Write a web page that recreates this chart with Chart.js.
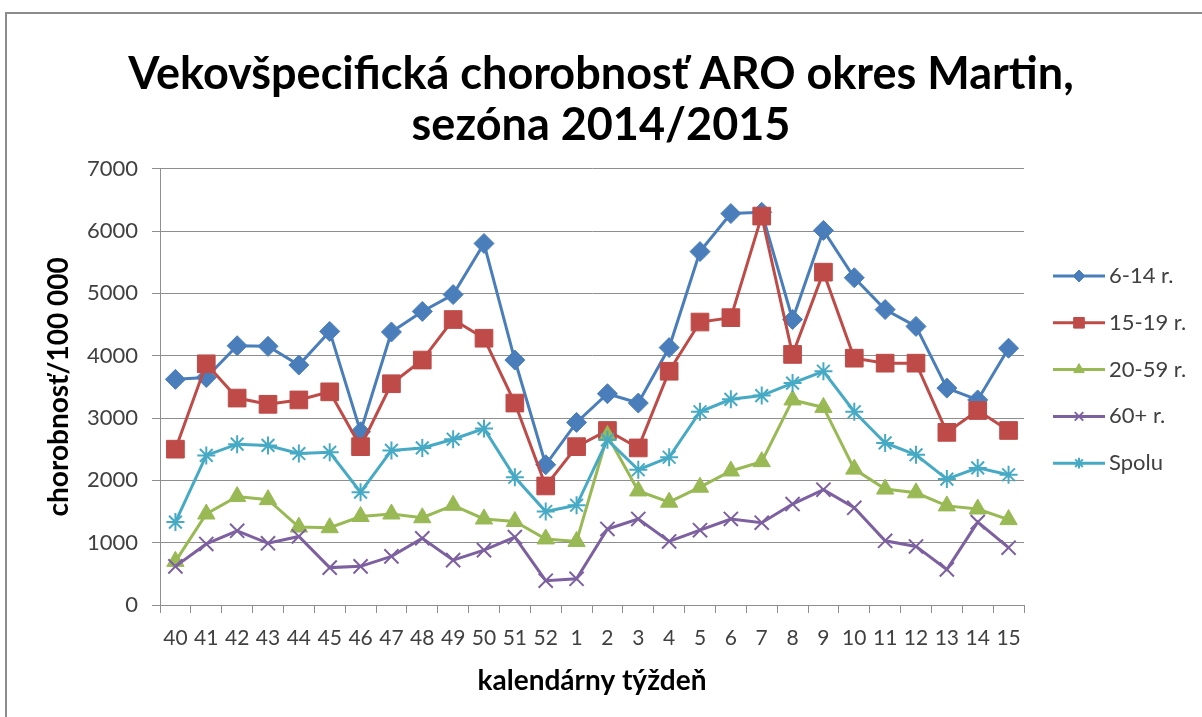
<!DOCTYPE html>
<html>
<head>
<meta charset="utf-8">
<script src="https://cdn.jsdelivr.net/npm/chart.js@4.4.1/dist/chart.umd.min.js"></script>
<style>
  html, body { margin: 0; padding: 0; background: #fff; }
  .wrap { position: relative; width: 1202px; height: 717px; overflow: hidden; }
  .frame {
    position: absolute; left: 5px; top: 12px; right: -10px; bottom: -10px;
    border: 2px solid #8c8c8c;
  }
  canvas { position: absolute; left: 0; top: 0; }
</style>
</head>
<body>
<div class="wrap">
  <div class="frame"></div>
  <canvas id="chart" width="1202" height="717"></canvas>
</div>
<script>
// calendar weeks of the 2014/2015 season
const weeks = ['40', '41', '42', '43', '44', '45', '46', '47', '48', '49', '50', '51', '52',
  '1', '2', '3', '4', '5', '6', '7', '8', '9', '10', '11', '12', '13', '14', '15'];

// morbidity per 100 000 by age group
const age6to14 = [3620, 3650, 4160, 4150, 3850, 4390, 2780, 4380, 4710, 4980, 5800, 3930, 2250,
  2930, 3390, 3240, 4130, 5670, 6280, 6300, 4580, 6010, 5250, 4740, 4470, 3480, 3290, 4120];
const age15to19 = [2500, 3870, 3320, 3220, 3290, 3420, 2540, 3550, 3930, 4580, 4280, 3240, 1910,
  2540, 2800, 2520, 3750, 4540, 4610, 6240, 4020, 5340, 3960, 3880, 3880, 2770, 3120, 2800];
const age20to59 = [700, 1460, 1740, 1690, 1250, 1240, 1420, 1460, 1400, 1600, 1380, 1340, 1060,
  1020, 2720, 1830, 1650, 1890, 2150, 2300, 3290, 3170, 2180, 1860, 1800, 1590, 1540, 1370];
const age60plus = [620, 980, 1190, 990, 1100, 600, 620, 780, 1070, 720, 880, 1090, 390,
  420, 1220, 1380, 1020, 1200, 1380, 1320, 1620, 1850, 1560, 1030, 940, 570, 1330, 920];
const total = [1330, 2400, 2580, 2560, 2430, 2450, 1810, 2480, 2520, 2660, 2830, 2050, 1500,
  1600, 2650, 2170, 2370, 3100, 3300, 3360, 3560, 3750, 3100, 2600, 2410, 2020, 2200, 2090];

const yTicks = [0, 1000, 2000, 3000, 4000, 5000, 6000, 7000];

const FONT = "Lato, 'Open Sans', sans-serif";
const GRID = '#8e8e8e';
const LABEL = '#404040';

function series(label, data, color, style, radius, order) {
  return {
    label, data, order,
    borderColor: color,
    backgroundColor: color,
    borderWidth: 3,
    tension: 0,
    pointStyle: style,
    pointRadius: radius,
    pointBackgroundColor: color,
    pointBorderColor: color,
    pointBorderWidth: (style === 'crossRot' || style === 'star') ? 2 : 1
  };
}

// line + marker legend on the right, like an office chart
const sideLegend = {
  id: 'sideLegend',
  afterDraw(chart, args, opts) {
    const ctx = chart.ctx;
    ctx.save();
    ctx.font = opts.font;
    ctx.textBaseline = 'middle';
    chart.data.datasets.forEach((ds, i) => {
      const y = opts.y + i * opts.gap;
      ctx.strokeStyle = ds.borderColor;
      ctx.lineWidth = ds.borderWidth;
      ctx.beginPath();
      ctx.moveTo(opts.x, y);
      ctx.lineTo(opts.x + opts.lineLength, y);
      ctx.stroke();
      ctx.fillStyle = ds.pointBackgroundColor;
      ctx.strokeStyle = ds.pointBorderColor;
      ctx.lineWidth = ds.pointBorderWidth;
      Chart.helpers.drawPoint(ctx, {
        pointStyle: ds.pointStyle,
        radius: ds.pointRadius * 0.6,
        rotation: 0,
        borderWidth: ds.pointBorderWidth
      }, opts.x + opts.lineLength / 2, y);
      ctx.fillStyle = opts.color;
      ctx.fillText(ds.label, opts.x + opts.lineLength + 4, y);
    });
    ctx.restore();
  }
};

new Chart(document.getElementById('chart'), {
  type: 'line',
  data: {
    labels: weeks,
    datasets: [
      series('6-14 r.', age6to14, '#4a7ebb', 'rectRot', 10, 5),
      series('15-19 r.', age15to19, '#be4b48', 'rect', 12.5, 4),
      series('20-59 r.', age20to59, '#98b954', 'triangle', 10, 3),
      series('60+ r.', age60plus, '#7d60a0', 'crossRot', 10, 2),
      series('Spolu', total, '#46aac5', 'star', 9, 1)
    ]
  },
  options: {
    responsive: false,
    animation: false,
    devicePixelRatio: 1,
    layout: { padding: 0 },
    plugins: {
      legend: { display: false },
      tooltip: { enabled: false },
      title: {
        display: true,
        text: ['Vekovšpecifická chorobnosť ARO okres Martin,', 'sezóna 2014/2015'],
        color: '#000',
        font: { family: FONT, size: 45, weight: 'bold', lineHeight: 1.13 },
        padding: { top: 49, bottom: 18 }
      },
      sideLegend: {
        x: 1053, y: 276, gap: 46.8, lineLength: 52,
        font: '22px ' + FONT, color: LABEL
      }
    },
    scales: {
      x: {
        offset: true,
        grid: { offset: true, drawOnChartArea: false, tickLength: 8, color: GRID },
        border: { color: GRID, width: 1 },
        ticks: { color: LABEL, font: { family: FONT, size: 21 }, padding: 13, maxRotation: 0, autoSkip: false },
        title: {
          display: true, text: 'kalendárny týždeň', color: '#000',
          font: { family: FONT, size: 28, weight: 'bold', lineHeight: 1.2 },
          padding: { top: 19, bottom: 19 }
        },
        afterFit(scale) { scale.height = 112; }
      },
      y: {
        min: 0, max: 7000,
        afterBuildTicks(scale) { scale.ticks = yTicks.map(v => ({ value: v })); },
        grid: { color: GRID, tickLength: 8 },
        border: { color: GRID, width: 1 },
        ticks: { color: LABEL, font: { family: FONT, size: 22 }, padding: 14, callback: v => String(v) },
        title: {
          display: true, text: 'chorobnosť/100 000', color: '#000',
          font: { family: FONT, size: 28, weight: 'bold', lineHeight: 1.2 },
          padding: { top: 42, bottom: 42 }
        },
        afterFit(scale) { scale.width = 160; }
      },
      // empty band on the right that holds the legend
      legendBand: {
        type: 'linear',
        position: 'right',
        grid: { display: false },
        border: { display: false },
        ticks: { display: false },
        afterFit(scale) { scale.width = 178; }
      }
    }
  },
  plugins: [sideLegend]
});
</script>
</body>
</html>
